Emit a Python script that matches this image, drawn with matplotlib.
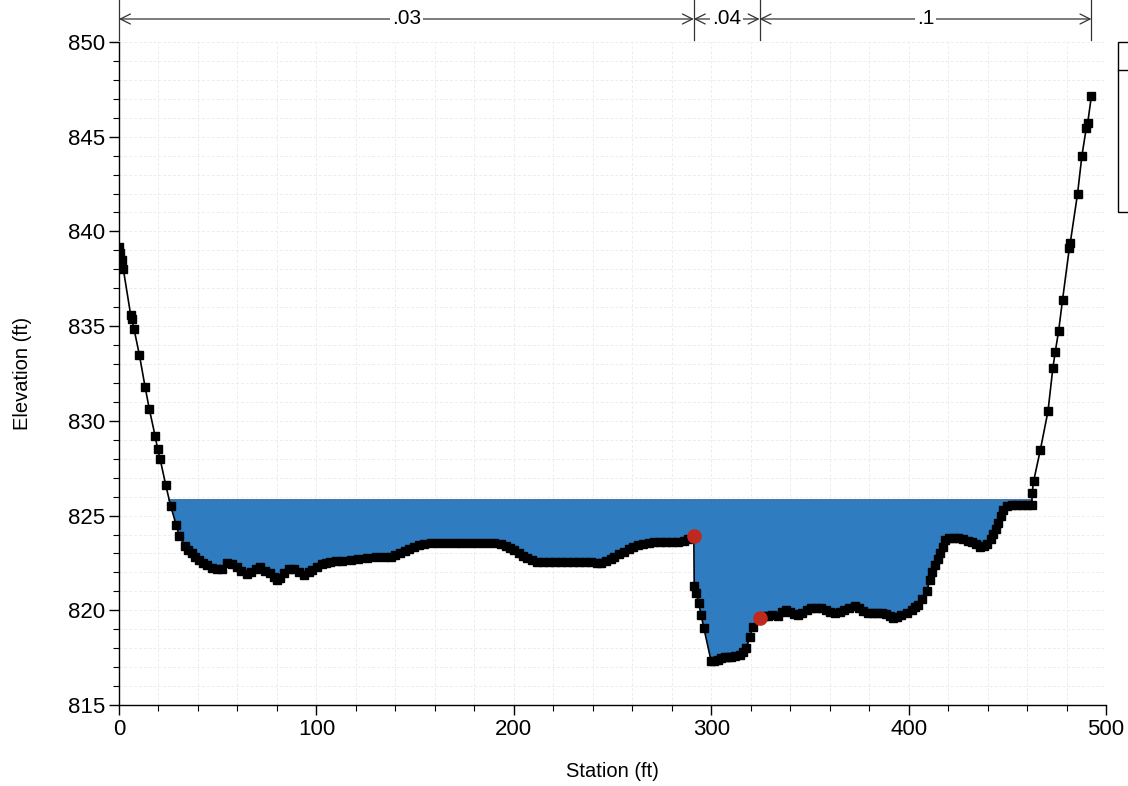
import numpy as np
import matplotlib
matplotlib.use("Agg")
import matplotlib.pyplot as plt
from matplotlib.patches import Rectangle
from matplotlib.lines import Line2D
from matplotlib.ticker import MultipleLocator
import matplotlib.transforms as mtransforms

plt.rcParams["font.family"] = ["Liberation Sans", "DejaVu Sans"]

# surveyed ground points (ft)
station = [
    0.0, 0.5, 1.4, 2.2, 5.9, 6.4, 7.6, 10.3, 13.2, 15.4, 18.3, 19.6, 20.8, 23.7,
    26.2, 29.0, 30.6, 33.5, 35.0, 36.9, 38.5, 40.3, 42.5, 44.5, 47.0, 49.6, 52.0,
    54.7, 57.0, 59.7, 62.0, 64.8, 67.0, 69.5, 71.6, 74.0, 76.6, 78.5, 80.0, 81.7,
    83.4, 86.0, 88.5, 91.0, 93.6, 96.0, 98.0, 100.4, 103.0, 105.0, 107.1, 110.0,
    113.0, 117.3, 121.0, 125.7, 130.0, 134.0, 137.6, 140.0, 142.6, 145.0, 147.0,
    149.4, 152.0, 154.6, 158.0, 162.0, 166.0, 170.0, 174.0, 178.0, 182.0, 186.0,
    190.0, 193.4, 196.0, 198.0, 200.2, 202.5, 204.5, 206.9, 209.0, 212.0, 215.0,
    218.0, 221.0, 224.0, 227.2, 230.0, 233.0, 236.0, 239.0, 242.0, 244.2, 246.5,
    249.0, 251.0, 253.5, 256.0, 258.5, 260.5, 262.8, 265.5, 268.5, 271.2, 274.0,
    277.0, 280.0, 283.1, 286.0, 288.5, 291.2,
    291.4, 292.4, 293.6, 294.9, 296.3, 300.0, 301.5, 303.4, 305.0, 306.8, 308.5,
    310.2, 312.3, 314.4, 316.0, 317.8, 319.5, 321.2, 324.5,
    326.5, 328.8, 331.0, 333.8, 336.0, 338.1, 340.0, 342.0, 344.0, 346.0, 348.5,
    350.8, 353.0, 355.8, 358.0, 360.0, 362.6, 365.0, 367.5, 370.0, 372.8, 375.0,
    377.0, 379.5, 382.0, 384.0, 386.3, 388.5, 390.5, 392.2, 394.3, 396.4, 399.0,
    401.5, 403.2, 404.9, 407.0, 409.1, 410.8, 412.0, 413.4, 414.7, 416.0, 417.3,
    418.6, 420.5, 422.8, 425.2, 427.5, 430.0, 432.0, 434.0, 436.2, 438.0, 439.6,
    441.5, 443.0, 444.3, 445.5, 446.8, 448.0, 450.0, 452.3, 455.0, 457.5, 460.0,
    462.4, 462.6, 463.3, 466.7, 470.6, 473.1, 474.3, 476.0, 478.0, 481.4, 481.9,
    485.6, 487.8, 490.0, 490.7, 492.6,
]
elevation = [
    839.2, 838.85, 838.5, 838.0, 835.6, 835.4, 834.85, 833.5, 831.8, 830.6, 829.2,
    828.5, 828.0, 826.6,
    825.5, 824.5, 823.9, 823.4, 823.2, 823.0, 822.8, 822.65, 822.5, 822.4, 822.25,
    822.2, 822.2, 822.5, 822.45, 822.3, 822.1, 821.9, 822.0, 822.2, 822.3, 822.1,
    821.95, 821.75, 821.6, 821.7, 821.95, 822.2, 822.2, 822.0, 821.85, 822.0,
    822.15, 822.3, 822.45, 822.5, 822.55, 822.6, 822.6, 822.65, 822.7, 822.75,
    822.8, 822.8, 822.8, 822.9, 823.0, 823.15, 823.25, 823.35, 823.45, 823.5,
    823.55, 823.55, 823.55, 823.55, 823.55, 823.55, 823.55, 823.55, 823.55, 823.5,
    823.4, 823.3, 823.2, 823.0, 822.85, 822.75, 822.65, 822.57, 822.57, 822.57,
    822.57, 822.57, 822.57, 822.57, 822.55, 822.55, 822.55, 822.5, 822.5, 822.6,
    822.7, 822.8, 822.95, 823.1, 823.25, 823.35, 823.45, 823.5, 823.55, 823.6,
    823.6, 823.6, 823.6, 823.6, 823.65, 823.75, 823.9,
    821.3, 820.9, 820.4, 819.75, 819.05, 817.3, 817.3, 817.4, 817.5, 817.55,
    817.55, 817.55, 817.6, 817.65, 817.8, 818.0, 818.6, 819.1, 819.6,
    819.7, 819.7, 819.75, 819.7, 819.9, 820.0, 819.9, 819.8, 819.75, 819.85,
    820.0, 820.1, 820.1, 820.1, 820.0, 819.9, 819.85, 819.9, 820.0, 820.1, 820.2,
    820.1, 819.95, 819.85, 819.85, 819.85, 819.85, 819.8, 819.7, 819.6, 819.65,
    819.75, 819.85, 820.0, 820.15, 820.3, 820.6, 821.0, 821.6, 822.0, 822.4,
    822.7, 823.0, 823.35, 823.7, 823.8, 823.8, 823.8, 823.75, 823.65, 823.6,
    823.5, 823.35, 823.4, 823.5, 823.75, 824.05, 824.3, 824.6, 825.0, 825.3,
    825.5, 825.55, 825.55, 825.55, 825.55, 825.55, 826.2, 826.8, 828.45, 830.5,
    832.8, 833.65, 834.75, 836.4, 839.1, 839.4, 842.0, 844.0, 845.45, 845.7,
    847.15,
]

water_surface = 825.8
bank_station = [291.2, 324.5]
bank_elev = [823.9, 819.6]
mannings_n = [".03", ".04", ".1"]

sta = np.array(station)
elev = np.array(elevation)

fig = plt.figure(figsize=(11.28, 7.86), dpi=100)
ax = fig.add_axes([119 / 1128, 81 / 786, 987 / 1128, 663 / 786])

# water fill under the water surface
ax.fill_between(sta, elev, water_surface, where=elev < water_surface,
                interpolate=True, color="#2f7dc0", lw=0, zorder=2)
wet = np.where(elev < water_surface)[0]
i0, i1 = wet[0], wet[-1]
x_left = np.interp(water_surface, [elev[i0], elev[i0 - 1]], [sta[i0], sta[i0 - 1]])
x_right = np.interp(water_surface, [elev[i1], elev[i1 + 1]], [sta[i1], sta[i1 + 1]])
ax.plot([x_left, x_right], [water_surface, water_surface], color="#1f5f96",
        lw=1.2, zorder=3)

# ground line with survey points
ax.plot(sta, elev, color="black", lw=1.2, marker="s", ms=5.8,
        mec="black", mfc="black", zorder=4)
ax.plot(bank_station, bank_elev, ls="none", marker="o", ms=9.5,
        color="#c0291e", zorder=5)

ax.set_xlim(0, 500)
ax.set_ylim(815, 850)
ax.xaxis.set_major_locator(MultipleLocator(100))
ax.xaxis.set_minor_locator(MultipleLocator(20))
ax.yaxis.set_major_locator(MultipleLocator(5))
ax.yaxis.set_minor_locator(MultipleLocator(1))
ax.grid(which="both", color="#ededed", lw=0.7, ls=(0, (3, 2)), zorder=0)
ax.set_axisbelow(True)

for side in ("top", "right"):
    ax.spines[side].set_visible(False)
for side in ("left", "bottom"):
    ax.spines[side].set_linewidth(1.0)
ax.tick_params(which="major", length=7, width=1, labelsize=16, pad=3)
ax.tick_params(which="minor", length=4, width=0.8)

ax.set_xlabel("Station (ft)", fontsize=14.5, labelpad=16)
ax.set_ylabel("Elevation (ft)", fontsize=14.5, labelpad=26)

# Manning's n reaches along the top
bounds = [sta[0], bank_station[0], bank_station[1], sta[-1]]
trans = mtransforms.blended_transform_factory(ax.transData, ax.transAxes)
y_arrow = 1.0347
for xb in bounds:
    ax.add_line(Line2D([xb, xb], [1.003, 1.07], transform=trans, color="#333333",
                       lw=0.9, clip_on=False))
for k, n in enumerate(mannings_n):
    a, b = bounds[k], bounds[k + 1]
    ax.annotate("", xy=(b, y_arrow), xytext=(a, y_arrow), xycoords=trans,
                textcoords=trans,
                arrowprops=dict(arrowstyle="<->,head_length=0.6,head_width=0.3",
                                color="#333333", lw=0.9, shrinkA=0, shrinkB=0,
                                mutation_scale=12),
                annotation_clip=False)
    ax.text((a + b) / 2, y_arrow, n, transform=trans, ha="center", va="center",
            fontsize=15, bbox=dict(fc="white", ec="none", pad=1.5), clip_on=False)

# legend frame at the right edge
fig.add_artist(Rectangle((1118 / 1128, (786 - 212) / 786), 40 / 1128, 170 / 786,
                         transform=fig.transFigure, fill=False, ec="black", lw=1.0))
fig.add_artist(Line2D([1118 / 1128, 1.0], [(786 - 70) / 786] * 2,
                      transform=fig.transFigure, color="black", lw=1.0))

fig.savefig("out.png", dpi=100, facecolor="white")
